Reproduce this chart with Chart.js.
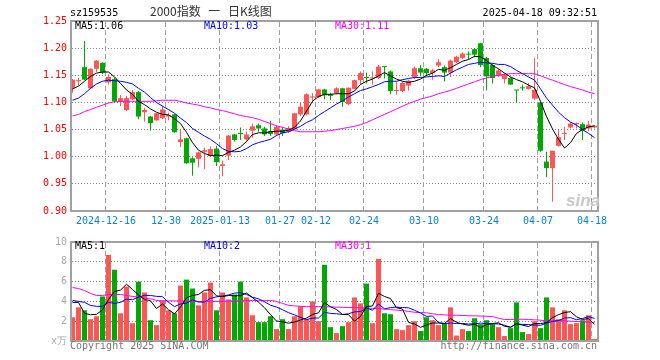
<!DOCTYPE html>
<html>
<head>
<meta charset="utf-8">
<script src="https://cdn.jsdelivr.net/npm/chart.js@4.4.1/dist/chart.umd.min.js"></script>
<style>
body { margin: 0; background: #fff; width: 660px; height: 360px; overflow: hidden; position: relative;
       font-family: "DejaVu Sans Mono", monospace; font-size: 10px; }
canvas { position: absolute; left: 0; }
#kline { top: 0; }
#vol { top: 232px; }
.t { position: absolute; line-height: 10px; white-space: pre; }
</style>
</head>
<body>
<canvas id="kline" width="660" height="232"></canvas>
<canvas id="vol" width="660" height="128"></canvas>

<div class="t" style="left:70px;top:8px;color:#000">sz159535</div>
<div class="t" style="left:150px;top:5px;line-height:12px;font-size:12px;font-family:'Noto Sans CJK SC';word-spacing:5px;color:#333">2000指数 一 日K线图</div>
<div class="t" style="right:63px;top:8px;color:#000">2025-04-18 09:32:51</div>

<div class="t" style="left:75px;top:21px;color:#000">MA5:1.06</div>
<div class="t" style="left:204px;top:21px;color:#0000ff">MA10:1.03</div>
<div class="t" style="left:335px;top:21px;color:#ff00ff">MA30:1.11</div>

<div class="t" style="left:75px;top:241px;color:#000">MA5:1</div>
<div class="t" style="left:204px;top:241px;color:#0000ff">MA10:2</div>
<div class="t" style="left:335px;top:241px;color:#ff00ff">MA30:1</div>

<div class="t" style="left:566px;top:192px;font:italic bold 17px 'Liberation Sans';line-height:17px;color:#c8c8c8">sina</div>

<div class="t" style="left:70px;top:341px;color:#777">Copyright 2025 SINA.COM</div>
<div class="t" style="right:63px;top:341px;color:#777">http://finance.sina.com.cn</div>

<script>
// x axis: trading day index of each dated gridline
var tickDays = [6, 16, 25, 35, 41, 49, 59, 69, 78, 87];
var tickLabels = ['2024-12-16', '12-30', '2025-01-13', '01-27', '02-12', '02-24', '03-10', '03-24', '04-07', '04-18'];

// daily candles, 2024-12-06 .. 2025-04-18
var opens = [1.127, 1.139, 1.165, 1.126, 1.162, 1.173, 1.137, 1.143, 1.101, 1.086,
  1.106, 1.119, 1.082, 1.074, 1.067, 1.071, 1.074, 1.078, 1.027, 1.034,
  0.997, 0.996, 1.009, 1.001, 1.015, 0.983, 1.002, 1.041, 1.044, 1.032,
  1.048, 1.058, 1.052, 1.047, 1.041, 1.050, 1.046, 1.050, 1.078, 1.078,
  1.109, 1.110, 1.124, 1.115, 1.117, 1.126, 1.097, 1.125, 1.141, 1.146,
  1.144, 1.145, 1.166, 1.157, 1.121, 1.121, 1.131, 1.147, 1.163, 1.162,
  1.154, 1.168, 1.165, 1.155, 1.174, 1.182, 1.189, 1.198, 1.209, 1.182,
  1.169, 1.149, 1.143, 1.145, 1.123, 1.127, 1.125, 1.107, 1.100, 0.991,
  0.979, 1.020, 1.042, 1.054, 1.060, 1.060, 1.052, 1.054];
var closes = [1.142, 1.141, 1.142, 1.162, 1.177, 1.155, 1.147, 1.102, 1.108, 1.108,
  1.119, 1.074, 1.086, 1.062, 1.080, 1.087, 1.077, 1.045, 1.032, 0.988,
  0.989, 1.008, 1.012, 1.014, 0.990, 0.986, 1.039, 1.031, 1.042, 1.041,
  1.056, 1.052, 1.041, 1.042, 1.055, 1.043, 1.053, 1.080, 1.092, 1.115,
  1.111, 1.124, 1.113, 1.112, 1.126, 1.101, 1.127, 1.141, 1.154, 1.145,
  1.146, 1.166, 1.165, 1.121, 1.123, 1.136, 1.140, 1.163, 1.155, 1.154,
  1.159, 1.174, 1.155, 1.177, 1.184, 1.190, 1.188, 1.188, 1.169, 1.148,
  1.145, 1.159, 1.151, 1.133, 1.122, 1.126, 1.130, 1.123, 1.011, 0.979,
  1.011, 1.036, 1.044, 1.061, 1.062, 1.048, 1.059, 1.057];
var highs = [1.143, 1.145, 1.213, 1.163, 1.178, 1.174, 1.152, 1.145, 1.113, 1.112,
  1.123, 1.121, 1.090, 1.075, 1.081, 1.094, 1.081, 1.079, 1.050, 1.035,
  0.999, 1.009, 1.017, 1.019, 1.020, 0.993, 1.040, 1.042, 1.054, 1.046,
  1.061, 1.061, 1.055, 1.066, 1.058, 1.055, 1.056, 1.081, 1.099, 1.117,
  1.117, 1.125, 1.125, 1.118, 1.128, 1.127, 1.128, 1.142, 1.157, 1.155,
  1.157, 1.169, 1.166, 1.159, 1.138, 1.138, 1.142, 1.166, 1.169, 1.163,
  1.162, 1.180, 1.168, 1.179, 1.186, 1.192, 1.194, 1.200, 1.210, 1.184,
  1.172, 1.162, 1.154, 1.147, 1.123, 1.133, 1.136, 1.182, 1.101, 1.009,
  1.011, 1.050, 1.055, 1.064, 1.063, 1.063, 1.066, 1.058];
var lows = [1.118, 1.131, 1.141, 1.125, 1.156, 1.152, 1.133, 1.100, 1.093, 1.084,
  1.104, 1.069, 1.065, 1.048, 1.066, 1.069, 1.067, 1.044, 1.018, 0.987,
  0.965, 0.980, 0.977, 1.000, 0.983, 0.964, 0.994, 1.028, 1.031, 1.030,
  1.035, 1.046, 1.038, 1.038, 1.038, 1.038, 1.044, 1.049, 1.075, 1.076,
  1.100, 1.108, 1.106, 1.104, 1.115, 1.092, 1.095, 1.124, 1.133, 1.135,
  1.133, 1.143, 1.144, 1.115, 1.114, 1.119, 1.122, 1.143, 1.149, 1.148,
  1.142, 1.165, 1.139, 1.147, 1.172, 1.180, 1.180, 1.183, 1.165, 1.122,
  1.135, 1.147, 1.135, 1.132, 1.099, 1.122, 1.124, 1.105, 1.009, 0.962,
  0.917, 1.019, 1.031, 1.052, 1.052, 1.031, 1.047, 1.052];

var ma5 = [1.125, 1.130, 1.139, 1.148, 1.154, 1.156, 1.156, 1.147, 1.135, 1.123,
  1.115, 1.102, 1.096, 1.088, 1.082, 1.078, 1.077, 1.070, 1.061, 1.045,
  1.026, 1.012, 1.006, 1.002, 1.003, 1.002, 1.008, 1.012, 1.018, 1.028,
  1.041, 1.044, 1.044, 1.046, 1.047, 1.047, 1.049, 1.054, 1.066, 1.084,
  1.102, 1.111, 1.115, 1.115, 1.116, 1.116, 1.116, 1.121, 1.133, 1.139,
  1.143, 1.149, 1.155, 1.149, 1.143, 1.139, 1.137, 1.139, 1.143, 1.150,
  1.154, 1.161, 1.159, 1.164, 1.170, 1.176, 1.179, 1.185, 1.184, 1.177,
  1.168, 1.162, 1.154, 1.147, 1.142, 1.138, 1.132, 1.127, 1.102, 1.074,
  1.051, 1.032, 1.016, 1.026, 1.043, 1.050, 1.055, 1.057];
var ma10 = [1.104, 1.108, 1.116, 1.126, 1.134, 1.139, 1.141, 1.140, 1.139, 1.137,
  1.134, 1.126, 1.119, 1.109, 1.100, 1.093, 1.087, 1.080, 1.071, 1.063,
  1.052, 1.045, 1.038, 1.032, 1.024, 1.015, 1.010, 1.009, 1.010, 1.015,
  1.022, 1.026, 1.029, 1.032, 1.039, 1.044, 1.046, 1.051, 1.056, 1.063,
  1.068, 1.076, 1.083, 1.090, 1.097, 1.103, 1.110, 1.116, 1.122, 1.125,
  1.129, 1.133, 1.138, 1.139, 1.139, 1.142, 1.144, 1.146, 1.146, 1.147,
  1.148, 1.149, 1.148, 1.154, 1.160, 1.165, 1.170, 1.172, 1.174, 1.173,
  1.172, 1.170, 1.170, 1.166, 1.159, 1.153, 1.147, 1.141, 1.125, 1.108,
  1.095, 1.082, 1.072, 1.064, 1.058, 1.050, 1.043, 1.035];
var ma30 = [1.075, 1.078, 1.083, 1.087, 1.091, 1.095, 1.099, 1.101, 1.102, 1.102,
  1.102, 1.102, 1.102, 1.102, 1.103, 1.104, 1.104, 1.104, 1.102, 1.099,
  1.097, 1.095, 1.092, 1.090, 1.087, 1.085, 1.082, 1.079, 1.076, 1.074,
  1.072, 1.069, 1.065, 1.061, 1.057, 1.054, 1.051, 1.048, 1.046, 1.046,
  1.046, 1.046, 1.047, 1.048, 1.050, 1.052, 1.054, 1.056, 1.059, 1.063,
  1.068, 1.073, 1.078, 1.083, 1.088, 1.093, 1.098, 1.102, 1.106, 1.109,
  1.112, 1.116, 1.119, 1.122, 1.126, 1.130, 1.134, 1.138, 1.142, 1.145,
  1.148, 1.150, 1.152, 1.153, 1.153, 1.153, 1.153, 1.153, 1.149, 1.145,
  1.141, 1.137, 1.133, 1.129, 1.126, 1.123, 1.119, 1.116];

// volume, x万
var volume = [2.4, 3.4, 3.1, 2.2, 2.5, 4.5, 8.7, 7.2, 2.8, 5.5,
  1.8, 6.0, 4.9, 2.1, 1.6, 4.1, 3.1, 2.8, 5.6, 6.2,
  5.3, 3.6, 4.9, 5.9, 3.1, 4.9, 4.2, 4.7, 6.0, 4.4,
  2.6, 1.9, 1.9, 2.5, 1.2, 2.2, 1.2, 2.5, 3.5, 2.2,
  4.0, 2.0, 7.7, 1.4, 0.8, 1.5, 1.9, 4.4, 3.8, 5.8,
  1.8, 8.3, 2.8, 2.7, 1.2, 1.1, 1.6, 2.0, 1.0, 2.4,
  2.1, 1.6, 1.8, 3.4, 0.55, 1.2, 1.0, 2.3, 1.7, 2.1,
  1.7, 1.4, 0.5, 1.3, 3.9, 0.9, 0.7, 2.0, 1.3, 4.4,
  3.4, 2.2, 3.1, 1.7, 1.8, 2.1, 2.6, 0.2];
var volMa5 = [3.9, 3.9, 2.8, 2.65, 2.7, 3.14, 4.2, 5.0, 5.14, 5.74,
  5.2, 4.66, 4.2, 4.06, 3.28, 3.74, 3.16, 2.74, 3.44, 4.36,
  4.6, 4.7, 5.12, 5.18, 4.56, 4.48, 4.6, 4.56, 4.58, 4.84,
  4.38, 3.92, 3.36, 2.66, 2.02, 1.94, 1.8, 1.92, 2.12, 2.32,
  2.68, 2.84, 3.88, 3.46, 3.18, 2.68, 2.66, 2.0, 2.48, 3.48,
  3.54, 4.82, 4.5, 4.28, 3.36, 3.22, 1.88, 1.72, 1.38, 1.62,
  1.82, 1.82, 1.78, 2.26, 1.89, 1.71, 1.59, 1.69, 1.35, 1.66,
  1.76, 1.84, 1.48, 1.4, 1.76, 1.6, 1.46, 1.76, 1.76, 1.86,
  2.36, 2.66, 2.88, 2.96, 2.44, 2.18, 2.26, 1.68];
var volMa10 = [4.1, 4.0, 3.9, 3.6, 3.5, 3.5, 3.9, 3.8, 3.9, 4.23,
  4.17, 4.43, 4.61, 4.6, 4.51, 4.47, 3.91, 3.47, 3.75, 3.82,
  4.17, 3.93, 3.93, 4.31, 4.46, 4.54, 4.65, 4.84, 4.88, 4.7,
  4.43, 4.26, 3.96, 3.62, 3.43, 3.16, 2.86, 2.64, 2.39, 2.17,
  2.31, 2.32, 2.9, 2.79, 2.75, 2.68, 2.75, 2.94, 2.97, 3.33,
  3.11, 3.74, 3.25, 3.38, 3.42, 3.38, 3.35, 3.11, 2.83, 2.49,
  2.52, 1.85, 1.75, 1.82, 1.76, 1.77, 1.71, 1.74, 1.81, 1.78,
  1.74, 1.72, 1.59, 1.38, 1.71, 1.68, 1.65, 1.62, 1.58, 1.81,
  1.98, 2.06, 2.32, 2.36, 2.15, 2.27, 2.46, 2.28];
var volMa30 = [5.4, 5.3, 5.1, 4.8, 4.6, 4.6, 4.7, 4.7, 4.7, 4.6,
  4.5, 4.45, 4.35, 4.25, 4.1, 4.05, 4.05, 4.05, 4.05, 4.05,
  4.0, 4.0, 4.0, 4.0, 4.0, 4.0, 4.05, 4.05, 4.1, 4.1,
  4.1, 4.1, 4.1, 4.1, 4.0, 3.8, 3.6, 3.55, 3.5, 3.47,
  3.47, 3.47, 3.47, 3.45, 3.42, 3.4, 3.38, 3.37, 3.35, 3.33,
  3.3, 3.27, 3.22, 3.18, 3.12, 3.07, 3.0, 2.9, 2.87, 2.85,
  2.75, 2.67, 2.64, 2.6, 2.6, 2.58, 2.55, 2.54, 2.52, 2.5,
  2.47, 2.3, 2.17, 2.17, 2.2, 2.2, 2.17, 2.14, 2.1, 2.02,
  2.05, 2.07, 2.05, 2.0, 1.97, 1.93, 1.9, 1.87];

var RED = '#ff5555';
var GREEN = '#00a800';

Chart.defaults.font.family = 'DejaVu Sans Mono';
Chart.defaults.font.size = 10;

var days = opens.map(function (v, i) { return i; });
var colors = days.map(function (i) { return closes[i] >= opens[i] ? RED : GREEN; });

var pts = function (arr) {
    return arr.map(function (v, i) { return {x: i, y: v}; });
};

var maLine = function (arr, color) {
    return {type: 'line', data: pts(arr), borderColor: color, borderWidth: 1,
        pointRadius: 0, tension: 0, order: 0};
};

// candle centres sit 2.5px right of the dated gridline
var xAxis = function (showLabels) {
    return {
        type: 'linear', min: -0.25, max: 87.58, bounds: 'data', offset: false,
        afterBuildTicks: function (s) {
            s.ticks = tickDays.map(function (d) { return {value: d - 0.42}; });
        },
        afterFit: function (s) { s.height = showLabels ? 16 : 0; },
        grid: {display: false, offset: false, drawTicks: false},
        border: {display: false},
        ticks: {display: showLabels, autoSkip: false, maxRotation: 0, padding: 4, color: '#0a84d8',
            callback: function (v, k) { return tickLabels[k]; }}
    };
};

// dotted value lines and dashed date lines, laid out dot by dot under the marks
var guides = {
    id: 'guides',
    beforeDatasetsDraw: function (chart) {
        var a = chart.chartArea;
        var ctx = chart.ctx;
        var xs = chart.scales.x;
        var ys = chart.scales.y;
        var left = Math.ceil(a.left) + 1;
        var right = Math.floor(a.right) - 1;
        var top = Math.ceil(a.top) + 1;
        var bottom = Math.floor(a.bottom) - 1;
        var p;
        ctx.save();
        ctx.fillStyle = '#888888';
        ys.ticks.forEach(function (t) {
            var y = Math.floor(ys.getPixelForValue(t.value));
            if (y <= top || y >= bottom) return;
            for (p = left; p < right; p += 3) ctx.fillRect(p, y, 1, 1);
        });
        ctx.fillStyle = '#a0a0a0';
        xs.ticks.forEach(function (t) {
            var x = Math.floor(xs.getPixelForValue(t.value));
            for (p = top; p < bottom; p += 8) ctx.fillRect(x, p, 1, Math.min(5, bottom - p));
        });
        ctx.restore();
    },
    afterDatasetsDraw: function (chart) {
        var a = chart.chartArea;
        var ctx = chart.ctx;
        ctx.save();
        ctx.strokeStyle = '#a0a0a0';
        ctx.lineWidth = 2;
        ctx.strokeRect(a.left, a.top, a.right - a.left, a.bottom - a.top);
        ctx.restore();
    }
};

var common = {
    responsive: false,
    animation: false,
    events: [],
    plugins: {legend: {display: false}, tooltip: {enabled: false}}
};

new Chart(document.getElementById('kline'), {
    type: 'bar',
    data: {
        datasets: [
            maLine(ma5, '#000000'),
            maLine(ma10, '#0000ff'),
            maLine(ma30, '#ff00ff'),
            {data: days.map(function (i) { return {x: i, y: [lows[i], highs[i]]}; }),
                backgroundColor: colors, barThickness: 1, grouped: false, inflateAmount: 0, order: 2},
            {data: days.map(function (i) { return {x: i, y: [opens[i], closes[i]]}; }),
                backgroundColor: colors, barThickness: 5, minBarLength: 1, grouped: false, inflateAmount: 0, order: 1}
        ]
    },
    options: Object.assign({}, common, {
        layout: {padding: {top: 21, right: 62, bottom: 5, left: 0}},
        scales: {
            x: xAxis(true),
            y: {
                min: 0.9, max: 1.25, bounds: 'data',
                afterFit: function (s) { s.width = 71; },
                ticks: {stepSize: 0.05, color: '#ff0000', padding: 4,
                    callback: function (v) { return v.toFixed(2); }},
                grid: {display: false, drawTicks: false},
                border: {display: false}
            }
        }
    }),
    plugins: [guides]
});

new Chart(document.getElementById('vol'), {
    type: 'bar',
    data: {
        datasets: [
            maLine(volMa5, '#000000'),
            maLine(volMa10, '#0000ff'),
            maLine(volMa30, '#ff00ff'),
            {data: pts(volume), backgroundColor: colors, barThickness: 5, grouped: false, inflateAmount: 0, order: 1}
        ]
    },
    options: Object.assign({}, common, {
        layout: {padding: {top: 8, right: 62, bottom: 19, left: 0}},
        scales: {
            x: xAxis(false),
            y: {
                min: 0, max: 10, bounds: 'data',
                afterFit: function (s) { s.width = 71; },
                ticks: {stepSize: 2, color: '#aaa', padding: 4,
                    callback: function (v) { return v === 0 ? 'x万' : v; }},
                grid: {display: false, drawTicks: false},
                border: {display: false}
            }
        }
    }),
    plugins: [guides]
});
</script>
</body>
</html>
